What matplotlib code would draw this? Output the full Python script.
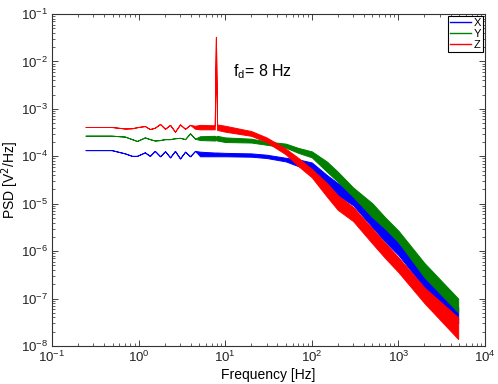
import numpy as np
import matplotlib
matplotlib.use('Agg')
import matplotlib.pyplot as plt
from matplotlib.lines import Line2D
from matplotlib.ticker import LogLocator, NullFormatter

plt.rcParams['font.family'] = ['Liberation Sans', 'DejaVu Sans']

# frequency anchors [Hz]
freq = [0.244, 0.488, 0.697, 0.837, 0.958, 1.18, 1.35, 1.54, 1.77, 2.02,
        2.31, 2.63, 3.01, 3.44, 3.93, 4.49, 5.13, 7.57, 7.81, 8.06,
        10, 20, 30, 50, 70, 100, 150, 200, 300, 500, 700, 1000, 2000, 4900]

# lower / upper edge of each noisy trace, in 1e-4 V^2/Hz
x_lo = [1.35, 1.35, 1.15, 1.02, 1.02, 1.21, 1.02, 1.3, 1.0, 1.28,
        0.95, 1.3, 0.9, 1.25, 1.0, 1.3, 1.0, 1.0, 1.0, 1.0,
        1.0, 0.98, 0.92, 0.78, 0.62, 0.52, 0.25, 0.15, 0.093, 0.032, 0.016, 0.0083, 0.0017, 0.0003]
x_hi = [1.35, 1.35, 1.15, 1.02, 1.02, 1.21, 1.02, 1.3, 1.0, 1.28,
        0.95, 1.3, 0.9, 1.25, 1.0, 1.3, 1.25, 1.2, 1.2, 1.2,
        1.18, 1.15, 1.08, 0.93, 0.86, 0.74, 0.40, 0.27, 0.17, 0.057, 0.031, 0.015, 0.0032, 0.00066]

y_lo = [2.72, 2.72, 2.6, 2.3, 2.1, 2.5, 2.3, 2.15, 2.2, 2.3,
        2.3, 2.4, 2.45, 2.3, 3.05, 2.35, 2.2, 2.15, 2.2, 2.15,
        2.0, 1.95, 1.75, 1.52, 1.18, 0.95, 0.47, 0.29, 0.14, 0.052, 0.03, 0.0155, 0.0028, 0.00051]
y_hi = [2.72, 2.72, 2.6, 2.3, 2.1, 2.5, 2.3, 2.15, 2.2, 2.3,
        2.3, 2.4, 2.45, 2.3, 3.05, 2.35, 2.65, 2.7, 2.6, 2.7,
        2.5, 2.35, 2.05, 1.85, 1.5, 1.27, 0.77, 0.47, 0.22, 0.102, 0.052, 0.027, 0.0056, 0.0010]

z_lo = [4.15, 4.15, 3.85, 3.9, 4.1, 4.35, 3.75, 4.0, 4.8, 3.8,
        4.6, 3.3, 4.7, 3.8, 4.6, 3.8, 3.7, 3.7, 330, 3.6,
        3.3, 2.7, 2.0, 1.1, 0.62, 0.36, 0.14, 0.074, 0.043, 0.0145, 0.0072, 0.0036, 0.0008, 0.00014]
z_hi = [4.15, 4.15, 3.85, 3.9, 4.1, 4.35, 3.75, 4.0, 4.8, 3.8,
        4.6, 3.3, 4.7, 3.8, 4.6, 4.4, 4.6, 4.5, 330, 4.7,
        4.4, 3.4, 2.5, 1.45, 0.92, 0.54, 0.27, 0.15, 0.085, 0.030, 0.015, 0.0074, 0.0017, 0.0004]

names = ['X', 'Y', 'Z']
colors = ['#0000ff', '#007f00', '#ff0000']

fig = plt.figure(figsize=(4.98, 3.84), dpi=100)
ax = fig.add_axes([0.1044, 0.099, 0.8695, 0.8645])

f = np.array(freq)
for lo, hi, c in zip([x_lo, y_lo, z_lo], [x_hi, y_hi, z_hi], colors):
    ax.fill_between(f, np.array(lo) * 1e-4, np.array(hi) * 1e-4,
                    color=c, lw=0.7)

ax.set_xscale('log')
ax.set_yscale('log')
ax.set_xlim(1e-1, 1e4)
ax.set_ylim(1e-8, 1e-1)

ax.xaxis.set_major_locator(LogLocator(base=10, numticks=10))
ax.yaxis.set_major_locator(LogLocator(base=10, numticks=10))
ax.xaxis.set_minor_locator(LogLocator(base=10, subs=np.arange(2, 10), numticks=20))
ax.yaxis.set_minor_locator(LogLocator(base=10, subs=np.arange(2, 10), numticks=20))
ax.yaxis.set_minor_formatter(NullFormatter())
ax.xaxis.set_minor_formatter(NullFormatter())
ax.tick_params(which='both', direction='in', top=True, right=True,
               labelsize=9.5, colors='#222222')
ax.tick_params(which='major', length=4, width=0.6, pad=3)
ax.tick_params(which='minor', length=2, width=0.5)
for s in ax.spines.values():
    s.set_linewidth(0.8)
    s.set_color('#333333')

ax.set_xlabel('Frequency [Hz]', fontsize=10)
ax.set_ylabel('PSD [V$^2$/Hz]', fontsize=10)
ax.xaxis.set_label_coords(0.5, -0.066)
ax.yaxis.set_label_coords(-0.072, 0.5)

ax.text(12.3, 6e-3, 'f$_\\mathregular{d}$= 8 Hz', fontsize=11.5, va='center')

handles = [Line2D([], [], color=c, lw=1.0) for c in colors]
leg = ax.legend(handles, names, loc='upper right', fontsize=8,
                handlelength=1.9, handletextpad=0.2, borderpad=0.2,
                labelspacing=0.1, borderaxespad=0.15, fancybox=False,
                framealpha=1)
leg.get_frame().set_edgecolor('black')
leg.get_frame().set_linewidth(0.8)

fig.savefig('out.png', dpi=100)
